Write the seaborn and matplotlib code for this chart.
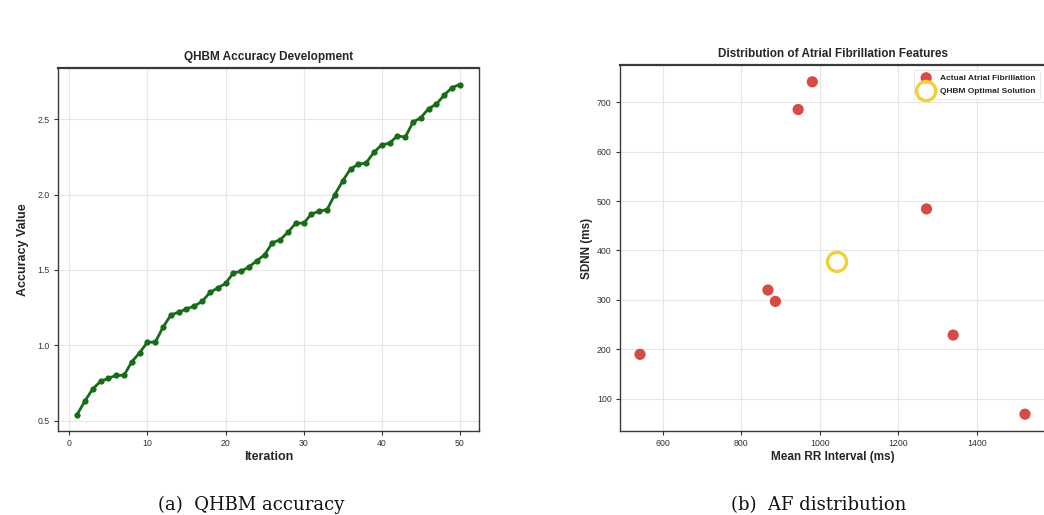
import numpy as np
import pandas as pd
import matplotlib
matplotlib.use("Agg")
import matplotlib.pyplot as plt
import seaborn as sns

# ---- data ----
iterations = list(range(1, 51))
accuracy = [0.54, 0.63, 0.71, 0.76, 0.78, 0.80, 0.80, 0.89, 0.95, 1.02,
            1.02, 1.12, 1.20, 1.22, 1.24, 1.26, 1.29, 1.35, 1.38, 1.41,
            1.48, 1.49, 1.52, 1.56, 1.60, 1.68, 1.70, 1.75, 1.81, 1.81,
            1.87, 1.89, 1.90, 2.00, 2.09, 2.17, 2.20, 2.21, 2.28, 2.33,
            2.34, 2.39, 2.38, 2.48, 2.51, 2.57, 2.60, 2.66, 2.71, 2.73]

af_mean_rr = [542, 868, 887, 945, 981, 1272, 1340, 1523]
af_sdnn = [190, 320, 297, 685, 741, 484, 229, 69]
opt_mean_rr = [1044]
opt_sdnn = [377]

title_a = "QHBM Accuracy Development"
title_b = "Distribution of Atrial Fibrillation Features"
caption_a = "(a)  QHBM accuracy"
caption_b = "(b)  AF distribution"

sns.set_theme(style="whitegrid")
plt.rcParams['font.family'] = ['Liberation Sans', 'DejaVu Sans']

W, H = 1044, 515
fig = plt.figure(figsize=(W / 100, H / 100), dpi=100)

def ax_rect(l, t, r, b):
    return [l / W, 1 - b / H, (r - l) / W, (b - t) / H]

ax1 = fig.add_axes(ax_rect(58, 68, 479, 431))
ax2 = fig.add_axes(ax_rect(620, 65, 1045, 431))

df1 = pd.DataFrame({"Iteration": iterations, "Accuracy": accuracy})
sns.lineplot(data=df1, x="Iteration", y="Accuracy", ax=ax1, color="#176d17",
             linewidth=2.0, marker="o", markersize=4.5, markeredgewidth=0,
             markerfacecolor="#176d17")

df_af = pd.DataFrame({"rr": af_mean_rr, "sdnn": af_sdnn})
df_opt = pd.DataFrame({"rr": opt_mean_rr, "sdnn": opt_sdnn})
sns.scatterplot(data=df_af, x="rr", y="sdnn", ax=ax2, s=65, color="#d43a35",
                alpha=0.92, edgecolor="none", label="Actual Atrial Fibrillation")
sns.scatterplot(data=df_opt, x="rr", y="sdnn", ax=ax2, s=190,
                facecolor="none", edgecolor="#f0cf3a", linewidth=2.4,
                label="QHBM Optimal Solution")

for ax in (ax1, ax2):
    ax.grid(True, color="#e6e6e6", linewidth=0.8)
    for side, sp in ax.spines.items():
        sp.set_color("#3a3a3a")
        sp.set_linewidth(1.0)
    ax.spines["top"].set_linewidth(1.6)
    ax.tick_params(axis="both", which="major", labelsize=6.3, colors="#333333",
                   length=3, width=0.8, pad=3, left=True, bottom=True)

ax1.set_title(title_a, fontsize=8.5, fontweight="bold", pad=6)
ax1.set_xlabel("Iteration", fontsize=9, fontweight="bold", labelpad=2)
ax1.set_ylabel("Accuracy Value", fontsize=9, fontweight="bold", labelpad=6)
ax1.set_xticks([0, 10, 20, 30, 40, 50])
ax1.set_yticks([0.5, 1.0, 1.5, 2.0, 2.5])

ax2.set_title(title_b, fontsize=8.5, fontweight="bold", pad=6)
ax2.set_xlabel("Mean RR Interval (ms)", fontsize=8.5, fontweight="bold", labelpad=2)
ax2.set_ylabel("SDNN (ms)", fontsize=8.5, fontweight="bold", labelpad=3)
ax2.set_xticks([600, 800, 1000, 1200, 1400])
ax2.set_yticks([100, 200, 300, 400, 500, 600, 700])
ax2.set_xlim(491, 1574)
ax2.set_ylim(35, 775)

leg = ax2.legend(loc="upper right", fontsize=6, frameon=True,
                 borderpad=0.5, handletextpad=0.7, labelspacing=0.65,
                 borderaxespad=0.6)
for t in leg.get_texts():
    t.set_fontweight("bold")
leg.get_frame().set_edgecolor("#dddddd")
leg.get_frame().set_linewidth(0.6)

fig.text(251 / W, 1 - 510 / H, caption_a, ha="center", va="baseline",
         fontsize=13, family="DejaVu Serif", color="#111111")
fig.text(819 / W, 1 - 510 / H, caption_b, ha="center", va="baseline",
         fontsize=13, family="DejaVu Serif", color="#111111")

fig.savefig("out.png", dpi=100)
